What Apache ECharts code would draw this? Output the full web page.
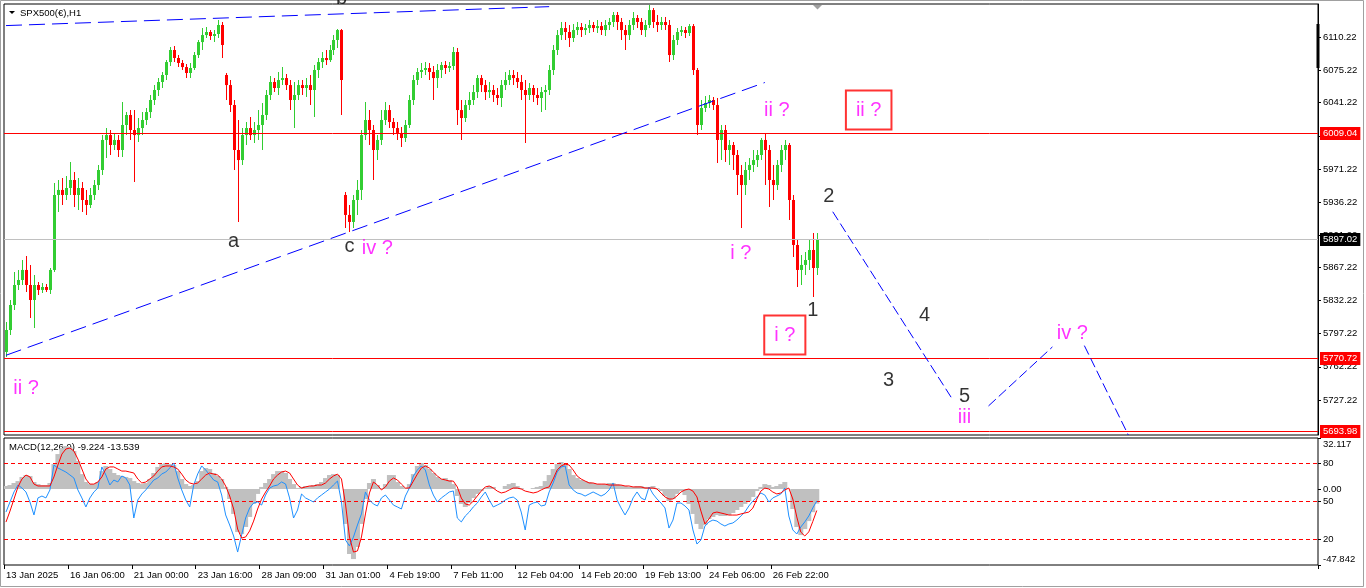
<!DOCTYPE html>
<html>
<head>
<meta charset="utf-8">
<title>SPX500(€),H1</title>
<script src="https://cdn.jsdelivr.net/npm/echarts@6/dist/echarts.min.js"></script>
<style>
  html, body { margin: 0; padding: 0; background: #ffffff; }
  #chart { width: 1366px; height: 588px; }
</style>
</head>
<body>
<div id="chart"></div>
<script>
// ---- chart data ----------------------------------------------------------
const symbolName = 'SPX500(€),H1';

// time-axis labels, one every 16 four-hour slots
const tickLabels = ['13 Jan 2025', '16 Jan 06:00', '21 Jan 00:00', '23 Jan 16:00', '28 Jan 09:00',
  '31 Jan 01:00', '4 Feb 19:00', '7 Feb 11:00', '12 Feb 04:00', '14 Feb 20:00',
  '19 Feb 13:00', '24 Feb 06:00', '26 Feb 22:00'];
const barsPerTick = 16;
const slotCount = 329;   // price bars plus the empty projection area on the right

// four-hour OHLC candles
const open = [
  5777.9, 5801.1, 5827.5, 5848.6, 5853.9, 5864.5, 5848.6, 5832.8, 5848.6, 5843.4,
  5846.5, 5843.4, 5864.5, 5943.7, 5949.0, 5943.7, 5951.1, 5959.5, 5943.7, 5951.1,
  5938.4, 5933.1, 5943.7, 5954.2, 5970.1, 6001.8, 6007.0, 5996.5, 6001.8, 5991.2,
  6017.6, 6028.2, 6012.3, 6007.0, 6014.4, 6022.9, 6031.3, 6044.0, 6054.6, 6063.0,
  6070.4, 6084.1, 6096.8, 6088.4, 6083.1, 6078.8, 6072.5, 6077.8, 6091.5, 6105.2,
  6112.6, 6115.8, 6111.6, 6113.7, 6123.2, 6070.4, 6059.8, 6038.7, 5991.2, 5980.6,
  6007.0, 6014.4, 6007.0, 6012.3, 6017.6, 6028.2, 6049.3, 6063.0, 6056.7, 6065.1,
  6067.2, 6059.8, 6044.0, 6049.3, 6059.8, 6056.7, 6059.8, 6054.6, 6075.7, 6084.1,
  6088.4, 6086.2, 6096.8, 6107.4, 6117.9, 5943.7, 5922.6, 5915.2, 5938.4, 5949.0,
  6007.0, 6022.9, 6012.3, 5991.2, 6001.8, 6022.9, 6033.4, 6020.8, 6014.4, 6009.2,
  6003.9, 6017.6, 6044.0, 6065.1, 6073.6, 6075.7, 6077.8, 6073.6, 6067.2, 6075.7,
  6081.0, 6077.8, 6079.9, 6094.7, 6033.4, 6025.0, 6038.7, 6044.0, 6052.4, 6067.2,
  6059.8, 6052.4, 6054.6, 6049.3, 6046.1, 6059.8, 6065.1, 6070.4, 6067.2, 6063.0,
  6054.6, 6049.3, 6056.7, 6049.3, 6046.1, 6052.4, 6054.6, 6075.7, 6096.8, 6112.6,
  6120.0, 6115.8, 6109.5, 6117.9, 6121.1, 6117.9, 6120.0, 6123.2, 6120.0, 6122.1,
  6117.9, 6123.2, 6126.4, 6133.8, 6126.4, 6117.9, 6112.6, 6123.2, 6130.6, 6126.4,
  6117.9, 6123.2, 6139.0, 6126.4, 6123.2, 6126.4, 6123.2, 6091.5, 6107.4, 6115.8,
  6117.9, 6114.8, 6122.1, 6075.7, 6017.6, 6035.6, 6040.8, 6044.0, 6038.7, 6001.8,
  6012.3, 5991.2, 5996.5, 5985.9, 5964.8, 5954.2, 5970.1, 5975.4, 5980.6, 5985.9,
  6001.8, 5991.2, 5959.5, 5954.2, 5975.4, 5991.2, 5996.5, 5938.4, 5890.9, 5864.5,
  5869.8, 5875.0, 5885.6, 5866.6
];
const close = [
  5801.1, 5827.5, 5848.6, 5853.9, 5864.5, 5848.6, 5832.8, 5848.6, 5843.4, 5846.5,
  5843.4, 5864.5, 5943.7, 5949.0, 5943.7, 5951.1, 5959.5, 5943.7, 5951.1, 5938.4,
  5933.1, 5943.7, 5954.2, 5970.1, 6001.8, 6007.0, 5996.5, 6001.8, 5991.2, 6017.6,
  6028.2, 6012.3, 6007.0, 6014.4, 6022.9, 6031.3, 6044.0, 6054.6, 6063.0, 6070.4,
  6084.1, 6096.8, 6088.4, 6083.1, 6078.8, 6072.5, 6077.8, 6091.5, 6105.2, 6112.6,
  6115.8, 6111.6, 6113.7, 6123.2, 6102.1, 6059.8, 6038.7, 5991.2, 5980.6, 6007.0,
  6014.4, 6007.0, 6012.3, 6017.6, 6028.2, 6049.3, 6063.0, 6056.7, 6065.1, 6067.2,
  6059.8, 6044.0, 6049.3, 6059.8, 6056.7, 6059.8, 6054.6, 6075.7, 6084.1, 6088.4,
  6086.2, 6096.8, 6107.4, 6117.9, 6065.1, 5922.6, 5915.2, 5938.4, 5949.0, 6007.0,
  6022.9, 6012.3, 5991.2, 6001.8, 6022.9, 6033.4, 6020.8, 6014.4, 6009.2, 6003.9,
  6017.6, 6044.0, 6065.1, 6073.6, 6075.7, 6077.8, 6073.6, 6067.2, 6075.7, 6081.0,
  6077.8, 6079.9, 6094.7, 6033.4, 6025.0, 6038.7, 6044.0, 6052.4, 6067.2, 6059.8,
  6052.4, 6054.6, 6049.3, 6046.1, 6059.8, 6065.1, 6070.4, 6067.2, 6063.0, 6054.6,
  6049.3, 6056.7, 6049.3, 6046.1, 6052.4, 6054.6, 6075.7, 6096.8, 6112.6, 6120.0,
  6115.8, 6109.5, 6117.9, 6121.1, 6117.9, 6120.0, 6123.2, 6120.0, 6122.1, 6117.9,
  6123.2, 6126.4, 6133.8, 6126.4, 6117.9, 6112.6, 6123.2, 6130.6, 6126.4, 6117.9,
  6123.2, 6139.0, 6126.4, 6123.2, 6126.4, 6123.2, 6091.5, 6107.4, 6115.8, 6117.9,
  6114.8, 6122.1, 6075.7, 6017.6, 6035.6, 6040.8, 6044.0, 6038.7, 6001.8, 6012.3,
  5991.2, 5996.5, 5985.9, 5964.8, 5954.2, 5970.1, 5975.4, 5980.6, 5985.9, 6001.8,
  5991.2, 5959.5, 5954.2, 5975.4, 5991.2, 5996.5, 5938.4, 5890.9, 5864.5, 5869.8,
  5875.0, 5885.6, 5866.6, 5897.02
];
const low = [
  5772.6, 5795.8, 5822.2, 5843.4, 5848.6, 5841.2, 5813.8, 5803.2, 5838.1, 5840.2,
  5841.2, 5839.1, 5862.4, 5925.7, 5933.1, 5938.4, 5943.7, 5931.0, 5927.8, 5925.7,
  5922.6, 5930.0, 5938.4, 5949.0, 5964.8, 5982.8, 5985.9, 5991.2, 5983.8, 5983.8,
  6007.0, 6001.8, 5957.4, 5999.6, 6007.0, 6017.6, 6025.0, 6038.7, 6048.2, 6056.7,
  6065.1, 6079.9, 6084.1, 6078.8, 6075.7, 6067.2, 6067.2, 6075.7, 6088.4, 6096.8,
  6109.5, 6107.4, 6105.2, 6109.5, 6088.4, 6044.0, 6031.3, 5970.1, 5915.2, 5975.4,
  5996.5, 6001.8, 5998.6, 6001.8, 5991.2, 6022.9, 6044.0, 6052.4, 6049.3, 6059.8,
  6054.6, 6033.4, 6014.4, 6044.0, 6049.3, 6047.2, 6038.7, 6026.1, 6067.2, 6077.8,
  6081.0, 6084.1, 6091.5, 6098.9, 6028.2, 5908.8, 5904.6, 5908.8, 5922.6, 5938.4,
  6001.8, 5996.5, 5959.5, 5980.6, 5996.5, 6017.6, 6014.4, 6007.0, 6001.8, 5994.4,
  5999.6, 6014.4, 6038.7, 6059.8, 6067.2, 6070.4, 6065.1, 6044.0, 6056.7, 6067.2,
  6071.5, 6073.6, 6075.7, 6017.6, 6001.8, 6020.8, 6033.4, 6038.7, 6046.1, 6052.4,
  6044.0, 6046.1, 6041.9, 6038.7, 6036.6, 6054.6, 6059.8, 6059.8, 6056.7, 6044.0,
  5998.6, 6044.0, 6041.9, 6038.7, 6031.3, 6033.4, 6049.3, 6070.4, 6091.5, 6107.4,
  6107.4, 6100.0, 6105.2, 6112.6, 6110.5, 6112.6, 6114.8, 6115.8, 6114.8, 6112.6,
  6111.6, 6117.9, 6121.1, 6117.9, 6107.4, 6096.8, 6107.4, 6117.9, 6120.0, 6112.6,
  6110.5, 6120.0, 6120.0, 6115.8, 6117.9, 6117.9, 6084.1, 6086.2, 6102.1, 6111.6,
  6109.5, 6111.6, 6070.4, 6007.0, 6012.3, 6031.3, 6035.6, 6033.4, 5977.5, 5980.6,
  5978.5, 5975.4, 5970.1, 5943.7, 5908.8, 5943.7, 5959.5, 5968.0, 5973.2, 5980.6,
  5954.2, 5931.0, 5938.4, 5949.0, 5968.0, 5980.6, 5917.3, 5878.2, 5846.5, 5848.6,
  5859.2, 5864.5, 5836.0, 5859.2
];
const high = [
  5809.6, 5832.8, 5862.4, 5864.5, 5875.0, 5879.3, 5869.8, 5859.2, 5851.8, 5850.8,
  5849.7, 5866.6, 5956.4, 5959.5, 5961.6, 5963.7, 5978.5, 5968.0, 5961.6, 5957.4,
  5949.0, 5951.1, 5959.5, 5975.4, 6007.0, 6014.4, 6012.3, 6009.2, 6007.0, 6041.9,
  6031.3, 6033.4, 6033.4, 6025.0, 6031.3, 6035.6, 6049.3, 6059.8, 6067.2, 6073.6,
  6086.2, 6100.0, 6101.0, 6091.5, 6086.2, 6082.0, 6083.1, 6094.7, 6107.4, 6120.0,
  6121.1, 6117.9, 6117.9, 6128.5, 6126.4, 6072.5, 6065.1, 6044.0, 6022.9, 6014.4,
  6020.8, 6026.1, 6020.8, 6033.4, 6040.8, 6054.6, 6069.3, 6067.2, 6073.6, 6078.8,
  6071.5, 6065.1, 6063.0, 6065.1, 6065.1, 6067.2, 6070.4, 6081.0, 6088.4, 6094.7,
  6096.8, 6102.1, 6112.6, 6119.0, 6119.0, 5946.8, 5933.1, 5943.7, 5959.5, 6012.3,
  6041.9, 6033.4, 6017.6, 6007.0, 6033.4, 6041.9, 6038.7, 6025.0, 6020.8, 6015.5,
  6022.9, 6049.3, 6070.4, 6077.8, 6083.1, 6084.1, 6083.1, 6079.9, 6082.0, 6084.1,
  6085.2, 6084.1, 6100.0, 6098.9, 6044.0, 6044.0, 6052.4, 6059.8, 6070.4, 6070.4,
  6065.1, 6063.0, 6059.8, 6056.7, 6065.1, 6073.6, 6075.7, 6075.7, 6073.6, 6070.4,
  6065.1, 6061.9, 6059.8, 6056.7, 6057.7, 6059.8, 6081.0, 6102.1, 6117.9, 6126.4,
  6126.4, 6123.2, 6124.3, 6126.4, 6125.3, 6124.3, 6128.5, 6126.4, 6128.5, 6126.4,
  6128.5, 6130.6, 6136.9, 6136.9, 6130.6, 6123.2, 6128.5, 6136.9, 6133.8, 6130.6,
  6128.5, 6144.3, 6141.2, 6133.8, 6131.6, 6131.6, 6128.5, 6112.6, 6120.0, 6122.1,
  6121.1, 6124.3, 6124.3, 6077.8, 6044.0, 6048.2, 6049.3, 6047.2, 6046.1, 6017.6,
  6017.6, 6001.8, 5999.6, 5991.2, 5975.4, 5978.5, 5982.8, 5991.2, 5991.2, 6003.9,
  6009.2, 5996.5, 5975.4, 5980.6, 5996.5, 6001.8, 5998.6, 5943.7, 5896.2, 5880.3,
  5883.5, 5896.2, 5903.6, 5903.6
];

// price scale
const priceMin = 5690.2;
const priceMax = 6145.4;
const priceTicks = [6110.22, 6075.22, 6041.22, 6006.22, 5971.22, 5936.22, 5901.22,
  5867.22, 5832.22, 5797.22, 5762.22, 5727.22];

// horizontal price levels: resistance, last price, two supports
const priceLevels = [6009.04, 5897.02, 5770.72, 5693.98];

// trend lines and projected wave path, as [bar index, price] pairs
const upperTrend = [[0, 6122.6], [136, 6142.6]];
const lowerTrend = [[0, 5774.4], [190, 6062.5]];
const projection = [
  [[207, 5926.0], [237, 5727.7]],
  [[246, 5720.9], [262, 5783.2]],
  [[270, 5784.6], [281, 5690.2]]
];

// wave labels: [text, bar index, price]
const blackMarks = [
  ['a', 57, 5895.1], ['b', 84, 6150.7], ['c', 86, 5889.8],
  ['1', 202, 5822.2], ['2', 206, 5941.9], ['3', 221, 5747.3],
  ['4', 230, 5816.0], ['5', 240, 5731.4]
];
const magentaMarks = [
  ['ii ?', 5, 5738.8], ['iv ?', 93, 5886.7], ['i ?', 184, 5881.4],
  ['ii ?', 193, 6033.4], ['iii', 240, 5709.2], ['iv ?', 267, 5797.1]
];
const boxedMarks = [
  ['i ?', 195, 5795.8], ['ii ?', 216, 6033.4]
];

// MACD(12,26,9): histogram (main) and signal line
const macdMain = [
  1.9, 2.5, 3.8, 5.0, 7.6, 8.8, 8.2, 4.4, 3.1, 2.5,
  2.5, 3.8, 15.7, 22.0, 25.8, 27.1, 26.4, 23.9, 17.6, 9.4,
  4.4, 3.1, 3.1, 4.4, 11.3, 14.5, 12.6, 10.1, 8.8, 8.2,
  7.6, 6.9, 5.0, 3.8, 3.1, 3.8, 6.3, 10.1, 13.9, 15.7,
  16.4, 15.7, 15.1, 11.3, 6.3, 3.1, 1.9, 2.5, 5.0, 11.3,
  13.2, 12.6, 10.1, 8.2, 6.3, 1.3, -6.3, -15.7, -27.1, -28.3,
  -23.9, -17.6, -9.4, -3.1, 1.3, 3.8, 6.3, 9.4, 11.3, 11.3,
  10.1, 6.3, 3.1, 0.6, 1.3, 1.9, 1.9, 2.5, 3.1, 4.4,
  6.9, 8.8, 9.4, 8.8, 0, -22.0, -40.9, -44.1, -36.5, -22.0,
  -6.3, 3.8, 6.3, 2.5, 0.6, 3.1, 8.8, 8.8, 4.4, 1.9,
  0.6, 3.1, 9.4, 14.5, 16.4, 15.1, 12.6, 10.1, 7.6, 6.3,
  6.9, 5.7, 3.1, -4.4, -9.4, -11.3, -8.8, -5.7, -3.1, -1.3,
  0.6, 1.9, 1.3, 0, 0, 1.9, 3.1, 3.8, 1.9, 0.6,
  0, 0, 0.6, 1.3, 1.9, 5.0, 8.8, 12.6, 15.7, 17.0,
  15.7, 12.6, 8.8, 6.9, 5.7, 5.0, 4.4, 3.8, 3.1, 3.1,
  3.1, 3.8, 3.8, 3.1, 2.5, 1.9, 1.3, 1.3, 1.9, 1.9,
  1.3, 1.3, 1.9, 0.6, -1.3, -4.4, -7.6, -6.3, -3.1, -1.3,
  -3.8, -9.4, -15.7, -22.0, -25.2, -22.7, -18.9, -17.6, -16.4, -17.0,
  -17.0, -16.4, -15.1, -13.2, -11.3, -9.4, -7.6, -5.0, -1.3, 1.3,
  3.1, 2.5, 1.3, 1.9, 3.1, 4.4, 0, -12.6, -23.9, -29.0,
  -25.2, -20.2, -14.6, -9.224
];
const macdSignal = [
  -20.8, -13.9, -6.3, 1.3, 6.3, 8.8, 7.6, 3.1, 1.9, 1.9,
  1.9, 1.9, 7.6, 15.1, 22.0, 25.2, 25.8, 23.9, 18.9, 12.6,
  6.3, 3.1, 3.1, 4.4, 7.6, 12.6, 13.9, 13.9, 12.6, 11.3,
  11.3, 10.7, 10.1, 6.3, 3.8, 4.4, 6.3, 8.2, 11.3, 13.9,
  14.5, 14.5, 13.9, 12.6, 9.4, 5.7, 3.8, 3.1, 3.8, 6.3,
  8.8, 10.1, 9.4, 8.8, 6.3, 1.9, -4.4, -12.6, -25.2, -30.9,
  -30.2, -26.4, -20.2, -12.6, -6.3, -1.9, 1.9, 6.3, 8.8, 10.7,
  11.3, 10.1, 6.3, 2.5, 0.6, 1.3, 1.9, 1.9, 2.5, 2.5,
  3.8, 6.3, 8.2, 9.4, 6.3, -9.4, -30.2, -39.7, -39.0, -30.2,
  -15.7, -2.5, 4.4, 2.5, -0.6, 1.3, 5.0, 6.9, 5.7, 3.1,
  0.6, 0.6, 5.0, 9.4, 13.2, 14.5, 13.2, 10.7, 8.2, 6.3,
  5.7, 5.0, 5.0, 1.3, -5.7, -9.4, -10.1, -7.6, -4.4, -1.3,
  1.3, 1.9, 0.6, -1.3, -2.5, -1.9, -0.6, 0.6, 0.6, 0,
  -1.3, -1.9, -2.5, -1.9, -0.6, 0.6, 1.3, 6.3, 12.0, 14.5,
  15.7, 15.1, 12.0, 8.2, 6.3, 5.0, 3.8, 3.8, 3.1, 3.1,
  3.1, 2.5, 2.5, 2.5, 2.5, 1.9, 1.9, 1.3, 1.3, 1.3,
  0.6, 0.6, 0.6, 0, -2.5, -5.0, -6.3, -6.3, -4.4, -1.9,
  -0.6, 0, -1.3, -5.0, -13.9, -22.0, -18.9, -15.1, -14.5, -15.1,
  -15.7, -16.4, -16.4, -16.4, -15.7, -15.1, -14.5, -12.0, -6.3, -1.3,
  0.6, 0, -1.9, -3.1, -2.5, -0.6, 0.6, -6.3, -17.6, -27.1,
  -29.6, -27.0, -20.5, -13.539
];
const macdMin = -47.842;
const macdMax = 32.117;
const macdScaleTicks = [32.117, 0, -47.842];

// 0-100 oscillator sharing the lower panel, with its 80/50/20 levels
const oscLine = [
  41.7, 49.6, 57.5, 63.0, 60.6, 57.5, 49.6, 39.4, 52.8, 54.3,
  52.8, 59.1, 78.7, 76.4, 74.8, 73.2, 70.9, 68.5, 59.1, 52.8,
  45.7, 52.8, 57.5, 60.6, 77.2, 70.9, 63.0, 66.9, 65.4, 70.1,
  68.5, 63.0, 37.0, 51.2, 55.9, 59.1, 63.0, 66.9, 68.5, 71.7,
  73.2, 76.4, 80.3, 68.5, 59.1, 51.2, 45.7, 63.0, 71.7, 78.0,
  74.8, 70.9, 66.9, 65.4, 55.1, 39.4, 31.5, 22.8, 10.2, 23.6,
  37.0, 44.9, 48.8, 49.6, 47.2, 55.1, 60.6, 62.2, 63.0, 65.4,
  63.8, 52.8, 37.0, 43.3, 55.9, 52.8, 51.2, 49.6, 52.8, 55.1,
  57.5, 59.8, 63.0, 66.1, 49.6, 19.7, 15.0, 22.0, 31.5, 40.2,
  57.5, 51.2, 48.0, 46.5, 52.8, 55.1, 51.2, 47.2, 45.7, 44.1,
  54.3, 60.6, 70.1, 74.8, 78.0, 74.8, 63.0, 55.1, 49.6, 52.8,
  55.1, 57.5, 58.3, 37.0, 33.9, 38.6, 41.7, 45.7, 48.8, 53.5,
  57.5, 51.2, 45.7, 47.2, 48.8, 51.2, 52.8, 53.5, 51.2, 41.7,
  27.6, 47.2, 48.8, 49.6, 46.5, 47.2, 57.5, 64.6, 73.2, 77.2,
  78.0, 63.0, 59.1, 56.7, 55.9, 54.3, 55.9, 57.5, 55.9, 54.3,
  55.9, 59.1, 64.6, 51.2, 44.9, 39.4, 44.9, 52.8, 57.5, 52.8,
  51.2, 61.4, 55.9, 52.0, 48.8, 44.9, 29.1, 35.4, 48.8, 48.8,
  46.5, 43.3, 27.6, 16.5, 19.7, 30.7, 33.9, 35.4, 34.6, 32.3,
  30.7, 32.3, 33.1, 35.4, 38.6, 41.7, 46.5, 50.4, 53.5, 56.7,
  55.1, 49.6, 52.8, 54.3, 55.9, 60.6, 38.6, 27.6, 24.4, 29.9,
  33.9, 38.6, 44.9, 50.4
];
const oscLevels = [80, 50, 20];

// ---- rendering -----------------------------------------------------------
const FONT = '"Liberation Sans", Arial, sans-serif';
const AXIS_FONT = 9.5;
const UP = '#32cd32';
const DOWN = '#ff0000';
const MAGENTA = '#ff00ff';
const LEVEL_RED = '#ff0000';
// line / box colours for the four price levels, in the order of priceLevels
const levelLineColors = [LEVEL_RED, '#c0c0c0', LEVEL_RED, LEVEL_RED];
const levelBoxColors = [LEVEL_RED, '#000000', LEVEL_RED, LEVEL_RED];

const categories = Array.from({ length: slotCount }, (_, i) =>
  i % barsPerTick === 0 && i / barsPerTick < tickLabels.length ? tickLabels[i / barsPerTick] : '');
const tickShown = (i) => i % barsPerTick === 0 && i / barsPerTick < tickLabels.length;
const candleRows = open.map((o, i) => [i, o, close[i], low[i], high[i]]);
const crisp = (y) => Math.round(y - 0.5) + 0.5;
const textFont = AXIS_FONT + 'px ' + FONT;

// thin bar-chart style candles: 1px wick, 3px body
function renderCandle(params, api) {
  const i = api.value(0);
  const o = api.value(1), c = api.value(2), lo = api.value(3), hi = api.value(4);
  const pO = api.coord([i, o]);
  const pC = api.coord([i, c]);
  const yLow = api.coord([i, lo])[1];
  const yHigh = api.coord([i, hi])[1];
  const color = c >= o ? UP : DOWN;
  const x = Math.round(pO[0]);
  const top = Math.min(pO[1], pC[1]);
  const bottom = Math.max(pO[1], pC[1]);
  return {
    type: 'group',
    children: [
      { type: 'rect', shape: { x: x, y: yHigh, width: 1, height: Math.max(yLow - yHigh, 1) }, style: { fill: color } },
      { type: 'rect', shape: { x: x - 1, y: top, width: 3, height: Math.max(bottom - top, 1) }, style: { fill: color } }
    ]
  };
}

// full-width horizontal price line, its value boxed on the price axis
function renderPriceLevel(params, api) {
  const value = api.value(0);
  const k = params.dataIndex;
  const cs = params.coordSys;
  const y = crisp(api.coord([0, value])[1]);
  return {
    type: 'group',
    children: [
      { type: 'line', shape: { x1: cs.x, y1: y, x2: cs.x + cs.width, y2: y },
        style: { stroke: levelLineColors[k], lineWidth: 1 } },
      { type: 'text', x: cs.x + cs.width + 2, y: y,
        style: { text: value.toFixed(2), fill: '#ffffff', backgroundColor: levelBoxColors[k],
          padding: [2, 3, 1, 3], font: textFont, verticalAlign: 'middle', align: 'left' } }
    ]
  };
}

// dashed 80/50/20 oscillator levels
function renderOscLevel(params, api) {
  const cs = params.coordSys;
  const y = crisp(api.coord([0, api.value(0)])[1]);
  return { type: 'line', shape: { x1: cs.x, y1: y, x2: cs.x + cs.width, y2: y },
    style: { stroke: LEVEL_RED, lineWidth: 1, lineDash: [4, 3] } };
}

// MACD scale captions: window top, zero, window bottom
function renderMacdCaption(params, api) {
  const cs = params.coordSys;
  const value = api.value(0);
  const y = api.coord([0, value])[1];
  const anchor = value === macdMax ? 'top' : (value === macdMin ? 'bottom' : 'middle');
  const digits = value === 0 ? 2 : 3;
  return {
    type: 'group',
    children: [
      { type: 'line', shape: { x1: cs.x + cs.width, y1: crisp(y), x2: cs.x + cs.width + 3, y2: crisp(y) },
        style: { stroke: '#000000', lineWidth: 1 } },
      { type: 'text', x: cs.x + cs.width + 5, y: anchor === 'top' ? y + 1 : (anchor === 'bottom' ? y - 1 : y),
        style: { text: value.toFixed(digits), fill: '#000000', font: textFont, verticalAlign: anchor, align: 'left' } }
    ]
  };
}

function markSeries(list, labelStyle) {
  return {
    type: 'scatter', xAxisIndex: 0, yAxisIndex: 0, clip: false, silent: true, z: 10,
    symbolSize: 1, itemStyle: { color: 'rgba(0,0,0,0)' },
    data: list.map(([text, idx, price]) => ({
      value: [idx, price],
      label: Object.assign({ show: true, position: 'inside', formatter: text,
        fontSize: 20, fontFamily: FONT }, labelStyle)
    }))
  };
}

function dashedLine(points, dash) {
  return {
    type: 'line', xAxisIndex: 0, yAxisIndex: 0, data: points, symbol: 'none',
    silent: true, z: 6, clip: false,
    itemStyle: { color: '#0000ff' },
    lineStyle: { color: '#0000ff', width: 1, type: dash }
  };
}

const lastMain = macdMain[macdMain.length - 1];
const lastSignal = macdSignal[macdSignal.length - 1];

const option = {
  animation: false,
  backgroundColor: '#ffffff',
  grid: [
    { left: 4, top: 4, width: 1314, height: 431, show: true, borderColor: '#000000', borderWidth: 1, backgroundColor: '#ffffff' },
    { left: 4, top: 438, width: 1314, height: 127, show: true, borderColor: '#000000', borderWidth: 1, backgroundColor: '#ffffff' }
  ],
  xAxis: [
    { type: 'category', gridIndex: 0, data: categories, axisLine: { show: false, onZero: false }, axisTick: { show: false }, axisLabel: { show: false }, splitLine: { show: false } },
    {
      type: 'category', gridIndex: 1, data: categories, position: 'bottom',
      axisLine: { show: false, onZero: false },
      axisTick: { show: true, length: 4, interval: tickShown, lineStyle: { color: '#000000' } },
      axisLabel: { show: true, interval: tickShown, align: 'left', margin: 5, color: '#000000', fontSize: AXIS_FONT, fontFamily: FONT },
      splitLine: { show: false }
    }
  ],
  yAxis: [
    {
      type: 'value', gridIndex: 0, position: 'right', min: priceMin, max: priceMax,
      axisLine: { show: true, lineStyle: { color: '#000000' } },
      axisTick: { show: true, length: 3, customValues: priceTicks, lineStyle: { color: '#000000' } },
      axisLabel: { show: true, customValues: priceTicks, formatter: (v) => v.toFixed(2), margin: 5, color: '#000000', fontSize: AXIS_FONT, fontFamily: FONT },
      splitLine: { show: false }
    },
    {
      type: 'value', gridIndex: 1, position: 'right', min: macdMin, max: macdMax, show: false,
      axisLine: { show: false, onZero: false }, axisTick: { show: false }, axisLabel: { show: false },
      splitLine: { show: false }, splitArea: { show: false }
    },
    {
      type: 'value', gridIndex: 1, position: 'right', min: 0, max: 100,
      axisLine: { show: false, onZero: false },
      axisTick: { show: true, length: 3, customValues: oscLevels, lineStyle: { color: '#000000' } },
      axisLabel: { show: true, customValues: oscLevels, margin: 5, color: '#000000', fontSize: AXIS_FONT, fontFamily: FONT },
      splitLine: { show: false }, splitArea: { show: false }
    }
  ],
  series: [
    {
      type: 'custom', xAxisIndex: 0, yAxisIndex: 0, data: candleRows, z: 3, silent: true,
      encode: { x: 0, y: [1, 2, 3, 4] },
      renderItem: renderCandle
    },
    {
      type: 'custom', xAxisIndex: 0, yAxisIndex: 0, z: 5, silent: true, clip: false,
      data: priceLevels.map((v) => [v]), encode: { y: 0 },
      renderItem: renderPriceLevel
    },
    dashedLine(upperTrend, [16, 7]),
    dashedLine(lowerTrend, [16, 7]),
    ...projection.map((seg) => dashedLine(seg, [10, 4])),
    markSeries(blackMarks, { color: '#000000' }),
    markSeries(magentaMarks, { color: MAGENTA }),
    markSeries(boxedMarks, { color: MAGENTA, borderColor: '#ff0000', borderWidth: 2, padding: [10, 10, 9, 10], lineHeight: 20 }),
    {
      type: 'bar', xAxisIndex: 1, yAxisIndex: 1, data: macdMain, barWidth: 5, silent: true, z: 2,
      itemStyle: { color: '#c0c0c0' }
    },
    {
      type: 'custom', xAxisIndex: 1, yAxisIndex: 1, z: 3, silent: true, clip: false,
      data: macdScaleTicks.map((v) => [v]), encode: { y: 0 },
      renderItem: renderMacdCaption
    },
    {
      type: 'custom', xAxisIndex: 1, yAxisIndex: 2, z: 3, silent: true,
      data: oscLevels.map((v) => [v]), encode: { y: 0 },
      renderItem: renderOscLevel
    },
    {
      type: 'line', xAxisIndex: 1, yAxisIndex: 2, data: oscLine, symbol: 'none', silent: true, z: 4,
      itemStyle: { color: '#1e90ff' }, lineStyle: { color: '#1e90ff', width: 1 }
    },
    {
      type: 'line', xAxisIndex: 1, yAxisIndex: 1, data: macdSignal, symbol: 'none', silent: true, z: 5,
      itemStyle: { color: '#ff0000' }, lineStyle: { color: '#ff0000', width: 1 }
    }
  ],
  graphic: [
    { type: 'rect', silent: true, shape: { x: 0.5, y: 0.5, width: 1363, height: 586 }, style: { fill: 'none', stroke: '#a0a0a0', lineWidth: 1 } },
    { type: 'polygon', silent: true, shape: { points: [[9, 11], [15, 11], [12, 14]] }, style: { fill: '#000000' } },
    { type: 'text', silent: true, x: 20, y: 13, style: { text: symbolName, fill: '#000000', font: textFont, verticalAlign: 'middle' } },
    { type: 'text', silent: true, x: 9, y: 447, style: { text: 'MACD(12,26,9) ' + lastMain + ' ' + lastSignal, fill: '#000000', font: textFont, verticalAlign: 'middle' } },
    { type: 'rect', silent: true, shape: { x: 1316.5, y: 24, width: 3, height: 44 }, style: { fill: '#000000' } },
    { type: 'polygon', silent: true, shape: { points: [[813, 5], [822, 5], [817.5, 9.5]] }, style: { fill: '#a0a0a0' } }
  ]
};

const chart = echarts.init(document.getElementById('chart'), null, { renderer: 'canvas' });
chart.setOption(option);
</script>
</body>
</html>
